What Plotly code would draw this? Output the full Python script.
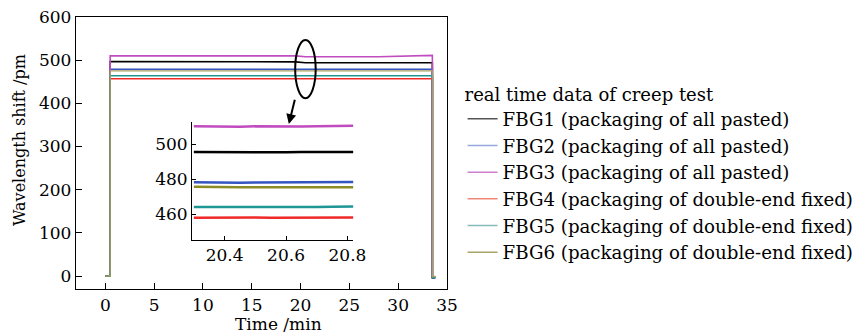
import plotly.graph_objects as go

FONT = "DejaVu Serif"

names = ["FBG1 (packaging of all pasted)", "FBG2 (packaging of all pasted)",
         "FBG3 (packaging of all pasted)", "FBG4 (packaging of double-end fixed)",
         "FBG5 (packaging of double-end fixed)", "FBG6 (packaging of double-end fixed)"]
colors = ["#000000", "#3355c0", "#c04cc0", "#f02828", "#1f9696", "#8c8c24"]
legend_colors = ["#555555", "#98a8e0", "#cc80cc", "#f08878", "#88bcbc", "#a8a468"]

# main time series (min) and wavelength shifts (pm)
main_time = [0.0, 0.5, 0.5, 10.0, 19.5, 20.5, 28.0, 33.5, 33.5, 33.8]
main_vals = {
    "FBG1": [0, 0, 497, 497, 496, 494, 494, 494, -2, -2],
    "FBG2": [0, 0, 479, 479, 479, 478, 478, 479, -5, -5],
    "FBG3": [0, 0, 510, 510, 510, 508, 508, 511, -2, -2],
    "FBG4": [0, 0, 457, 457, 457, 457, 457, 457, -3, -3],
    "FBG5": [0, 0, 464, 464, 464, 463, 463, 464, -4, -4],
    "FBG6": [0, 0, 475, 475, 475, 475, 475, 475, -1, -1],
}

# inset zoom data
inset_time = [20.30, 20.35, 20.40, 20.45, 20.50, 20.55, 20.60, 20.65, 20.70, 20.75, 20.80, 20.82]
inset_vals = {
    "FBG1": [495.6, 495.5, 495.7, 495.4, 495.6, 495.5, 495.4, 495.6, 495.5, 495.3, 495.4, 495.5],
    "FBG2": [478.3, 478.1, 478.2, 478.0, 478.1, 478.2, 478.0, 478.1, 478.2, 478.3, 478.4, 478.5],
    "FBG3": [510.2, 510.0, 510.1, 510.0, 510.2, 510.1, 510.0, 510.1, 510.3, 510.4, 510.5, 510.6],
    "FBG4": [458.0, 458.1, 458.0, 458.2, 458.1, 458.0, 458.1, 458.0, 458.1, 458.2, 458.1, 458.2],
    "FBG5": [464.2, 464.1, 464.2, 464.0, 464.1, 464.2, 464.1, 464.0, 464.2, 464.3, 464.4, 464.5],
    "FBG6": [475.7, 475.5, 475.6, 475.4, 475.5, 475.6, 475.4, 475.5, 475.4, 475.5, 475.6, 475.5],
}

x_ticks = [0, 5, 10, 15, 20, 25, 30, 35]
y_ticks = [0, 100, 200, 300, 400, 500, 600]
inset_x_ticks = [20.4, 20.6, 20.8]
inset_y_ticks = [460, 480, 500]

keys = ["FBG1", "FBG2", "FBG3", "FBG4", "FBG5", "FBG6"]

fig = go.Figure()
for i, k in enumerate(keys):
    fig.add_trace(go.Scatter(x=main_time, y=main_vals[k], mode="lines",
                             line=dict(color=colors[i], width=1.6), showlegend=False,
                             xaxis="x", yaxis="y"))
fig.data[-1].line.color = "#a8a060"
fig.data[-1].line.width = 1.3
for i in [5, 4, 3, 1, 2, 0]:
    k = keys[i]
    fig.add_trace(go.Scatter(x=inset_time, y=inset_vals[k], mode="lines",
                             line=dict(color=colors[i], width=2.5), showlegend=False,
                             xaxis="x2", yaxis="y2"))
for i, k in enumerate(keys):
    fig.add_trace(go.Scatter(x=[None], y=[None], mode="lines", name=names[i],
                             line=dict(color=legend_colors[i], width=1.5),
                             xaxis="x", yaxis="y"))

tick_font = dict(family=FONT, size=17, color="black")
leg_font = dict(family=FONT, size=18, color="black")

fig.update_layout(
    width=859, height=335,
    margin=dict(l=76, r=412, t=17, b=46, autoexpand=False),
    paper_bgcolor="white", plot_bgcolor="white",
    font=tick_font,
    xaxis=dict(range=[-3, 35], tickvals=x_ticks, ticks="inside", ticklen=6,
               tickcolor="black", showline=True, linecolor="black", linewidth=1.3,
               mirror=True, showgrid=False, zeroline=False, tickfont=tick_font),
    yaxis=dict(range=[-30, 600], tickvals=y_ticks, ticks="inside", ticklen=6,
               tickcolor="black", showline=True, linecolor="black", linewidth=1.3,
               mirror=True, showgrid=False, zeroline=False, tickfont=tick_font),
    xaxis2=dict(domain=[0.3127, 0.7474], anchor="y2", range=[20.294, 20.819],
                tickvals=inset_x_ticks, ticktext=["20.4", "20.6", "20.8"],
                ticks="inside", ticklen=4, tickcolor="black", showline=True,
                linecolor="black", linewidth=1, showgrid=False, zeroline=False,
                tickfont=tick_font),
    yaxis2=dict(domain=[0.180, 0.614], anchor="x2", range=[445.3, 512.7],
                tickvals=inset_y_ticks, ticks="inside", ticklen=4, tickcolor="black",
                showline=True, linecolor="black", linewidth=1, showgrid=False,
                zeroline=False, tickfont=tick_font),
    legend=dict(x=1.042, y=0.779, xanchor="left", yanchor="top",
                font=dict(family=FONT, size=18.2, color="black"),
                title=dict(text="real time data of creep test", font=leg_font),
                bgcolor="rgba(0,0,0,0)", tracegroupgap=0),
    showlegend=True,
)

fig.add_annotation(text="Time /min", xref="paper", yref="paper",
                   x=(278.5 - 76) / 371, y=(289 - 324) / 272, xanchor="center",
                   yanchor="middle", showarrow=False, font=tick_font)
fig.add_annotation(text="Wavelength shift /pm", xref="paper", yref="paper",
                   x=(19 - 76) / 371, y=(289 - 140) / 272, xanchor="center",
                   yanchor="middle", textangle=-90, showarrow=False,
                   font=dict(family=FONT, size=16, color="black"))

fig.add_shape(type="circle", xref="x", yref="y", x0=19.45, x1=21.55, y0=412, y1=547,
              line=dict(color="black", width=2))
fig.add_annotation(x=18.8, y=352, ax=19.45, ay=412, xref="x", yref="y",
                   axref="x", ayref="y", showarrow=True, arrowhead=2,
                   arrowsize=1, arrowwidth=2, arrowcolor="black", text="")

fig.write_html("out.html")
